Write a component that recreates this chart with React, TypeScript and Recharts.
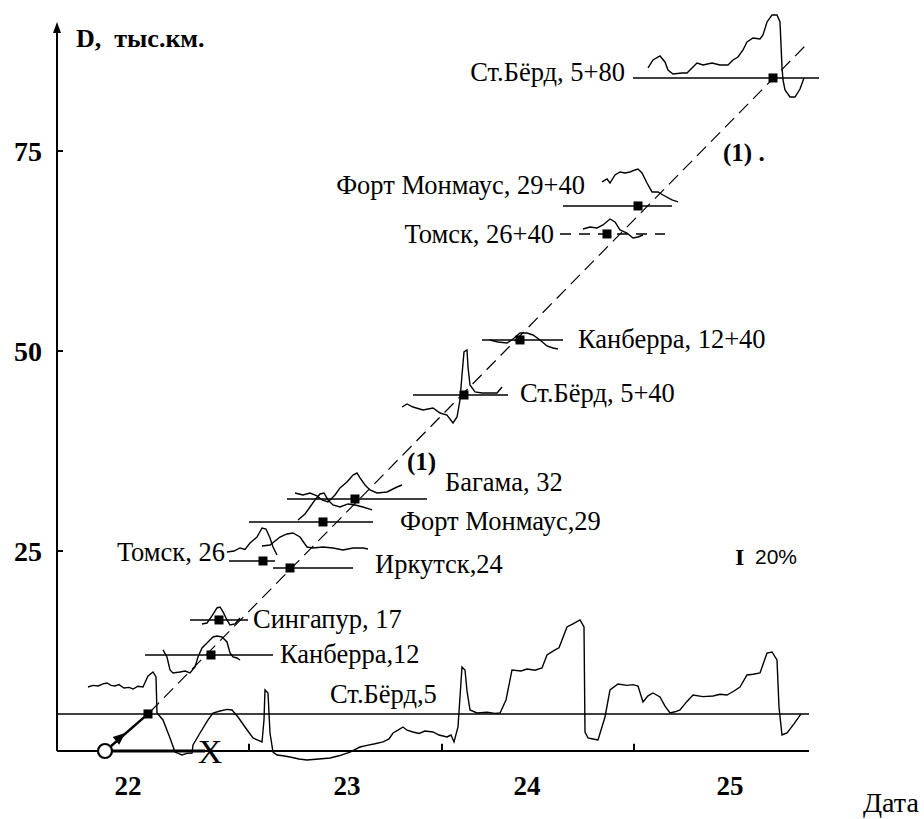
import React from 'react';
import { ComposedChart, Line, Scatter, XAxis, YAxis, ReferenceLine } from 'recharts';

const SERIF = "'Liberation Serif', Tinos, 'Times New Roman', 'DejaVu Serif', serif";
const SANS = "'Liberation Sans', Arimo, Arial, sans-serif";

// axes
const xDomain: [number, number] = [21.65, 25.46];
const yDomain: [number, number] = [-2, 93];
const xDayLabelPos = [22.005, 23.1, 24.0, 25.015];
const xDayLabels = ['22', '23', '24', '25'];
const xTickMarks = [22.61, 23.575, 24.535];
const yTicks = [25, 50, 75];
const xAxisEnd = 25.41;
const yAxisTop = 90.0;
const yArrowTip = 91.13;

// long record, Ст.Бёрд,5
const berd5Curve: [number, number][] = [
  [21.805, 8.0], [21.83, 8.2], [21.855, 8.13], [21.88, 8.4], [21.9, 8.5], [21.92, 8.2], [21.94, 8.13], [21.96, 8.3],
  [21.985, 7.88], [22.01, 7.95], [22.03, 7.75], [22.055, 8.1], [22.08, 8.0], [22.105, 9.38], [22.13, 9.88], [22.145, 9.25],
  [22.15, 4.75], [22.18, 3.88], [22.2, 2.6], [22.215, 1.63], [22.24, -0.13], [22.275, -0.5], [22.3, -0.3], [22.325, -0.25],
  [22.33, 0.75], [22.365, 2.25], [22.405, 3.88], [22.43, 4.75], [22.465, 5.0], [22.5, 5.2], [22.525, 5.13], [22.555, 4.25],
  [22.59, 3.0], [22.63, 1.63], [22.675, 1.13], [22.685, 3.88], [22.69, 7.63], [22.705, 7.25], [22.715, 2.25], [22.73, -0.13],
  [22.75, -0.5], [22.78, -0.6], [22.815, -0.75], [22.86, -1.0], [22.9, -1.13], [22.96, -1.0], [23.015, -0.88], [23.06, -0.6],
  [23.115, -0.13], [23.165, 0.5], [23.2, 0.7], [23.24, 0.9], [23.28, 1.13], [23.31, 1.5], [23.33, 2.25], [23.355, 2.6],
  [23.38, 3.0], [23.4, 2.6], [23.43, 2.38], [23.46, 2.2], [23.49, 2.5], [23.53, 2.38], [23.56, 2.0], [23.6, 1.75],
  [23.62, 2.0], [23.635, 1.13], [23.655, 3.0], [23.675, 10.5], [23.69, 10.13], [23.7, 7.5], [23.715, 5.13], [23.75, 4.75],
  [23.8, 4.85], [23.84, 4.7], [23.865, 4.75], [23.895, 6.38], [23.925, 10.13], [23.97, 10.0], [24.0, 10.25], [24.04, 10.1],
  [24.075, 10.38], [24.1, 12.0], [24.14, 12.63], [24.16, 12.9], [24.175, 13.88], [24.2, 15.5], [24.23, 15.9], [24.265, 16.38],
  [24.285, 15.5], [24.29, 2.38], [24.305, 1.63], [24.33, 1.5], [24.355, 1.38], [24.39, 4.25], [24.415, 7.63], [24.455, 8.38],
  [24.5, 8.2], [24.53, 8.3], [24.555, 8.13], [24.58, 6.13], [24.605, 6.9], [24.63, 7.25], [24.665, 6.75], [24.69, 5.6],
  [24.715, 4.75], [24.74, 4.9], [24.765, 5.13], [24.8, 6.2], [24.83, 7.0], [24.88, 6.8], [24.93, 6.88], [24.965, 7.1],
  [25.0, 7.0], [25.035, 7.5], [25.065, 8.0], [25.1, 9.5], [25.13, 9.6], [25.165, 9.75], [25.2, 12.25], [25.225, 12.38],
  [25.25, 11.38], [25.26, 5.5], [25.275, 2.0], [25.3, 2.25], [25.335, 3.4], [25.37, 4.63],
];

const kanb12Curve: [number, number][] = [
  [22.18, 12.63], [22.2, 11.75], [22.215, 10.13], [22.23, 9.75], [22.265, 9.88], [22.29, 10.0], [22.315, 9.75], [22.34, 10.5],
  [22.355, 11.75], [22.375, 12.88], [22.405, 13.63], [22.43, 14.25], [22.45, 14.38], [22.475, 14.25], [22.5, 13.63],
  [22.515, 12.25], [22.53, 11.75], [22.55, 11.63], [22.565, 11.38],
];
const sing17Curve: [number, number][] = [
  [22.375, 15.88], [22.4, 16.0], [22.425, 16.88], [22.45, 17.88], [22.465, 18.0], [22.48, 17.38], [22.5, 16.38],
  [22.515, 15.75], [22.54, 15.88], [22.565, 16.63],
];
const tomsk26Curve: [number, number][] = [
  [22.5, 24.88], [22.535, 25.0], [22.565, 25.38], [22.59, 25.2], [22.615, 26.0], [22.65, 26.75], [22.675, 27.88],
  [22.695, 27.75], [22.715, 26.63], [22.73, 25.5], [22.75, 24.5],
];
const irk24Curve: [number, number][] = [
  [22.675, 25.63], [22.715, 25.75], [22.765, 26.75], [22.8, 27.13], [22.83, 27.25], [22.865, 26.75], [22.9, 25.5],
  [22.93, 25.38], [22.98, 25.5], [23.03, 25.38], [23.08, 25.13], [23.13, 25.38], [23.18, 25.38], [23.205, 25.25],
];
const fort29Curve: [number, number][] = [
  [22.855, 28.88], [22.89, 29.63], [22.915, 30.5], [22.94, 31.38], [22.965, 32.13], [22.985, 32.25], [23.005, 31.38],
  [23.03, 30.75], [23.065, 30.5], [23.105, 30.88], [23.14, 30.75], [23.18, 30.5], [23.225, 30.13],
];
const bag32Curve: [number, number][] = [
  [22.84, 32.25], [22.88, 32.0], [22.915, 32.25], [22.95, 31.88], [22.975, 31.38], [23.005, 31.13], [23.04, 32.0],
  [23.065, 32.88], [23.1, 33.63], [23.13, 34.5], [23.15, 34.75], [23.165, 34.13], [23.19, 33.25], [23.215, 32.63],
  [23.25, 32.25], [23.3, 32.38], [23.35, 33.0], [23.375, 33.25],
];
const berd540Curve: [number, number][] = [
  [23.375, 43.0], [23.4, 43.38], [23.43, 43.0], [23.48, 42.63], [23.53, 42.88], [23.565, 42.25], [23.6, 42.0],
  [23.63, 41.0], [23.65, 41.75], [23.665, 43.88], [23.675, 47.0], [23.685, 49.88], [23.7, 50.13], [23.705, 48.0],
  [23.715, 45.75], [23.74, 44.88], [23.775, 44.75], [23.815, 44.75], [23.85, 44.75], [23.875, 45.5],
];
const kanb1240Curve: [number, number][] = [
  [23.815, 51.38], [23.855, 51.13], [23.9, 51.0], [23.93, 51.5], [23.965, 52.25], [24.0, 52.25], [24.03, 52.0],
  [24.065, 51.38], [24.1, 50.63], [24.13, 50.38], [24.155, 50.25],
];
const tomsk2640Curve: [number, number][] = [
  [24.28, 65.25], [24.315, 65.5], [24.35, 65.38], [24.38, 65.75], [24.415, 66.5], [24.44, 66.13], [24.465, 65.13],
  [24.5, 64.75], [24.53, 64.13], [24.555, 64.25], [24.58, 64.5],
];
const fort2940Curve: [number, number][] = [
  [24.375, 71.13], [24.4, 71.5], [24.415, 71.0], [24.44, 72.0], [24.465, 72.38], [24.49, 72.25], [24.515, 72.38],
  [24.54, 72.63], [24.555, 72.75], [24.575, 72.25], [24.6, 71.0], [24.625, 69.88], [24.655, 69.88], [24.68, 69.5],
  [24.725, 68.88], [24.755, 68.63],
];
const berd580Curve: [number, number][] = [
  [24.605, 85.38], [24.63, 86.38], [24.665, 86.88], [24.69, 86.13], [24.705, 85.13], [24.73, 84.63], [24.775, 84.75],
  [24.8, 84.75], [24.825, 85.38], [24.85, 86.0], [24.88, 85.75], [24.925, 86.0], [24.965, 85.75], [25.005, 85.75],
  [25.03, 86.38], [25.055, 86.75], [25.08, 87.63], [25.1, 88.63], [25.13, 89.13], [25.165, 89.0], [25.18, 89.5],
  [25.2, 91.13], [25.225, 92.0], [25.25, 92.0], [25.265, 91.13], [25.275, 85.5], [25.28, 83.88], [25.29, 82.63],
  [25.315, 81.75], [25.34, 81.75], [25.365, 82.75], [25.385, 84.13],
];

const curves = [berd5Curve, kanb12Curve, sing17Curve, tomsk26Curve, irk24Curve, fort29Curve, bag32Curve,
  berd540Curve, kanb1240Curve, tomsk2640Curve, fort2940Curve, berd580Curve];

// regression line (1)
const diagonal: [number, number][] = [[22.115, 4.88], [25.395, 88.25]];
// propagation arrow from source (circle) to first station
const arrowLine: [number, number][] = [[21.915, 0.5], [22.105, 4.63]];
const arrowHead: [number, number] = [21.99, 2.25];
const sourceBase: [number, number][] = [[21.925, 0], [22.39, 0]];
const sourceCircle: [number, number] = [21.89, 0];
const sourceCross: [number, number] = [22.415, 0];

// arrival markers
const markers: [number, number][] = [
  [22.105, 4.63], [22.42, 12.0], [22.46, 16.38], [22.68, 23.75], [22.815, 22.88], [22.98, 28.63], [23.14, 31.5],
  [23.685, 44.5], [23.965, 51.38], [24.4, 64.63], [24.555, 68.13], [25.23, 84.13],
];

// horizontal baselines (x1, x2, level)
const bars: { x1: number; x2: number; y: number; dashed?: boolean }[] = [
  { x1: 21.65, x2: 25.41, y: 4.63 },
  { x1: 22.09, x2: 22.73, y: 12.0 },
  { x1: 22.315, x2: 22.605, y: 16.38 },
  { x1: 22.51, x2: 22.74, y: 23.75 },
  { x1: 22.73, x2: 23.13, y: 22.88 },
  { x1: 22.61, x2: 23.23, y: 28.63 },
  { x1: 22.8, x2: 23.5, y: 31.5 },
  { x1: 23.43, x2: 23.905, y: 44.5 },
  { x1: 23.775, x2: 24.18, y: 51.38 },
  { x1: 24.165, x2: 24.69, y: 64.63, dashed: true },
  { x1: 24.18, x2: 24.725, y: 68.13 },
  { x1: 24.53, x2: 25.46, y: 84.13 },
];

// text labels, anchored in data coordinates
const stationLabels: { text: string; x: number; y: number; end?: boolean }[] = [
  { text: 'Ст.Бёрд, 5+80', x: 24.49, y: 84.88, end: true },
  { text: 'Форт Монмаус, 29+40', x: 24.29, y: 70.75, end: true },
  { text: 'Томск, 26+40', x: 24.135, y: 64.63, end: true },
  { text: 'Канберра, 12+40', x: 24.255, y: 51.5 },
  { text: 'Ст.Бёрд, 5+40', x: 23.965, y: 44.75 },
  { text: 'Багама, 32', x: 23.59, y: 33.63 },
  { text: 'Форт Монмаус,29', x: 23.365, y: 28.75 },
  { text: 'Томск, 26', x: 22.49, y: 24.88, end: true },
  { text: 'Иркутск,24', x: 23.24, y: 23.38 },
  { text: 'Сингапур, 17', x: 22.63, y: 16.5 },
  { text: 'Канберра,12', x: 22.765, y: 12.13 },
  { text: 'Ст.Бёрд,5', x: 23.015, y: 7.13 },
];
const boldLabels: { text: string; x: number; y: number }[] = [
  { text: '(1) .', x: 24.98, y: 74.88 },
  { text: '(1)', x: 23.4, y: 36.25 },
];
const yAxisTitle = { text: 'D,\u00A0\u00A0тыс.км.', x: 21.745, y: 89.13 };
const scaleBar = { text: '20%', x: 25.04, y: 24.25 };
const xAxisTitle = 'Дата';

const toPts = (a: [number, number][]) => a.map(([x, y]) => ({ x, y }));

const serif = (size: number, bold = false): React.CSSProperties => ({
  fontFamily: SERIF,
  fontSize: size,
  fontWeight: bold ? 700 : 400,
});

const YTick = (props: any) => {
  const { x, y, payload } = props;
  return (
    <g>
      <line x1={x} x2={x + 6} y1={y} y2={y} stroke="#000" strokeWidth={2} />
      <text x={x - 15} y={y} dy="0.35em" textAnchor="end" style={serif(28, true)} fill="#000">
        {payload.value}
      </text>
    </g>
  );
};

const XTick = (props: any) => {
  const { x, y, index } = props;
  return (
    <text x={x} y={y + 28} textAnchor="middle" style={serif(27, true)} fill="#000">
      {xDayLabels[index]}
    </text>
  );
};

const XTitle = (props: any) => {
  const vb = props.viewBox || {};
  return (
    <text x={vb.x + vb.width + 44} y={vb.y + 45} style={serif(28)} fill="#000">
      {xAxisTitle}
    </text>
  );
};

const StationText = (p: any) => (
  <text x={p.cx} y={p.cy} dy="0.35em" textAnchor={p.payload.end ? 'end' : 'start'} style={serif(26.5)} fill="#000">
    {p.payload.text}
  </text>
);
const BoldText = (p: any) => (
  <text x={p.cx} y={p.cy} dy="0.35em" style={serif(25, true)} fill="#000">
    {p.payload.text}
  </text>
);
const TitleText = (p: any) => (
  <text x={p.cx} y={p.cy} dy="0.35em" style={serif(26, true)} fill="#000">
    {p.payload.text}
  </text>
);
const ScaleText = (p: any) => (
  <g>
    <text x={p.cx} y={p.cy} dy="0.35em" style={serif(24, true)} fill="#000">I</text>
    <text x={p.cx + 20} y={p.cy} dy="0.35em" style={{ fontFamily: SANS, fontSize: 21 }} fill="#000">{p.payload.text}</text>
  </g>
);
const Square = (p: any) => <rect x={p.cx - 4.5} y={p.cy - 4.5} width={9} height={9} fill="#000" />;
const UpArrow = (p: any) => <path d={`M${p.cx},${p.cy} L${p.cx - 4},${p.cy + 11} L${p.cx + 4},${p.cy + 11} Z`} fill="#000" />;
const Circle = (p: any) => <circle cx={p.cx} cy={p.cy} r={7} fill="#fff" stroke="#000" strokeWidth={2.2} />;
const Cross = (p: any) => (
  <text x={p.cx} y={p.cy} dy="0.35em" textAnchor="middle" style={serif(34)} fill="#000">X</text>
);
const DiagArrow = (p: any) => (
  <path d={`M0,0 L-12,-5 L-12,5 Z`} transform={`translate(${p.cx},${p.cy}) rotate(-41)`} fill="#000" />
);

export default function App() {
  return (
    <div style={{ position: 'absolute', left: 0, top: 0, background: '#fff', fontFamily: SERIF }}>
      <ComposedChart width={924} height={819} margin={{ top: 7, right: 105, bottom: 22, left: 17 }}>
        <XAxis
          type="number"
          dataKey="x"
          domain={xDomain}
          ticks={xDayLabelPos}
          interval={0}
          axisLine={false}
          tickLine={false}
          tickSize={0}
          tickMargin={0}
          height={30}
          tick={<XTick />}
          label={<XTitle />}
        />
        <YAxis
          type="number"
          dataKey="y"
          domain={yDomain}
          ticks={yTicks}
          interval={0}
          axisLine={false}
          tickLine={false}
          tickSize={0}
          tickMargin={0}
          width={40}
          tick={<YTick />}
        />
        {/* axes lines */}
        <ReferenceLine segment={[{ x: xDomain[0], y: 0 }, { x: xDomain[0], y: yAxisTop }]} stroke="#000" strokeWidth={2} />
        <ReferenceLine segment={[{ x: xDomain[0], y: 0 }, { x: xAxisEnd, y: 0 }]} stroke="#000" strokeWidth={2} />
        {xTickMarks.map((t) => (
          <ReferenceLine key={t} segment={[{ x: t, y: 0 }, { x: t, y: 0.9 }]} stroke="#000" strokeWidth={2} />
        ))}
        {bars.map((b, i) => (
          <ReferenceLine
            key={'bar' + i}
            segment={[{ x: b.x1, y: b.y }, { x: b.x2, y: b.y }]}
            stroke="#000"
            strokeWidth={1.6}
            strokeDasharray={b.dashed ? '11 8' : undefined}
          />
        ))}
        <Line data={toPts(diagonal)} dataKey="y" stroke="#000" strokeWidth={1.2} strokeDasharray="13 7" dot={false} activeDot={false} isAnimationActive={false} />
        {curves.map((c, i) => (
          <Line key={'c' + i} data={toPts(c)} dataKey="y" type="linear" stroke="#000" strokeWidth={1.4} dot={false} activeDot={false} isAnimationActive={false} />
        ))}
        <Line data={toPts(arrowLine)} dataKey="y" stroke="#000" strokeWidth={2.4} dot={false} activeDot={false} isAnimationActive={false} />
        <Line data={toPts(sourceBase)} dataKey="y" stroke="#000" strokeWidth={3} dot={false} activeDot={false} isAnimationActive={false} />
        <Scatter data={[{ x: arrowHead[0], y: arrowHead[1] }]} shape={<DiagArrow />} isAnimationActive={false} />
        <Scatter data={[{ x: sourceCircle[0], y: sourceCircle[1] }]} shape={<Circle />} isAnimationActive={false} />
        <Scatter data={[{ x: sourceCross[0], y: sourceCross[1] }]} shape={<Cross />} isAnimationActive={false} />
        <Scatter data={[{ x: xDomain[0], y: yArrowTip }]} shape={<UpArrow />} isAnimationActive={false} />
        <Scatter data={toPts(markers)} shape={<Square />} isAnimationActive={false} />
        <Scatter data={stationLabels} shape={<StationText />} isAnimationActive={false} />
        <Scatter data={boldLabels} shape={<BoldText />} isAnimationActive={false} />
        <Scatter data={[yAxisTitle]} shape={<TitleText />} isAnimationActive={false} />
        <Scatter data={[scaleBar]} shape={<ScaleText />} isAnimationActive={false} />
      </ComposedChart>
    </div>
  );
}
